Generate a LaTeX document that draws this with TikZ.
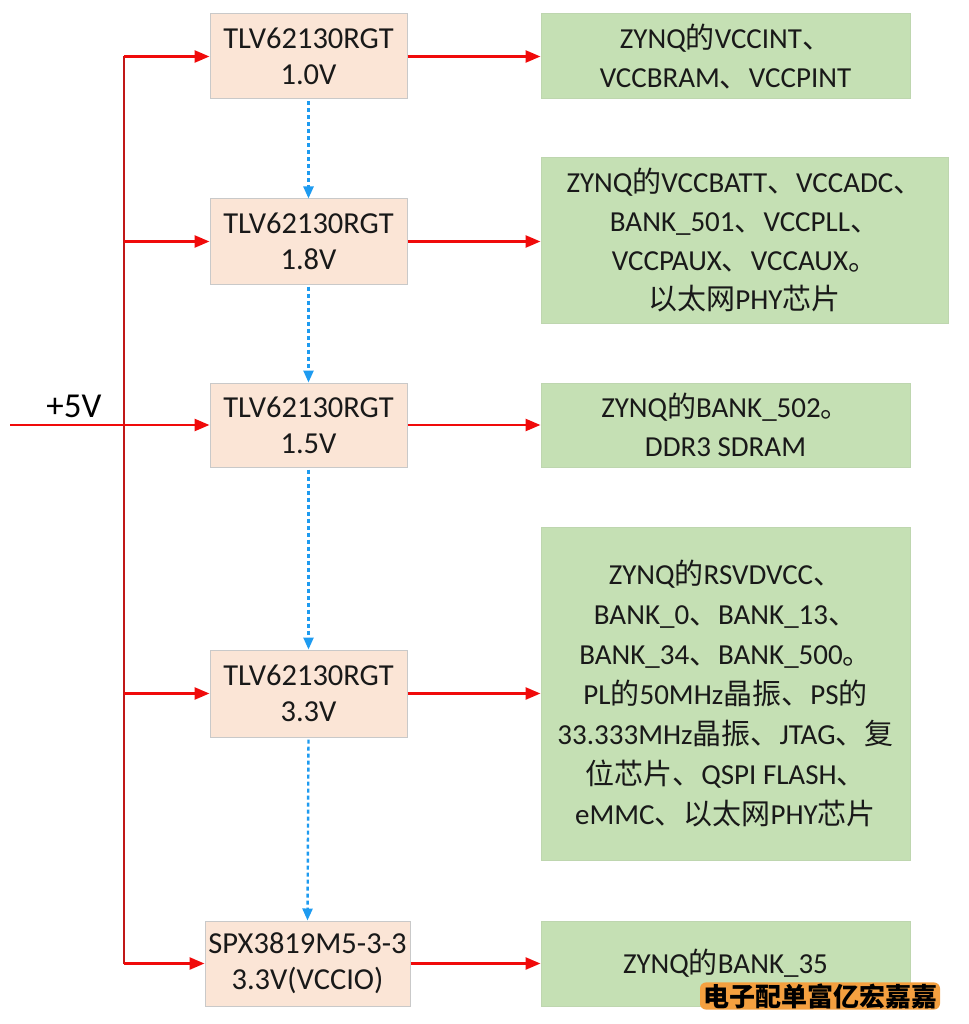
\documentclass[tikz,border=0pt]{standalone}
\usepackage{fontspec}
\setmainfont{Carlito}
\newfontfamily\cjk{Noto Sans CJK SC}
\usetikzlibrary{arrows.meta}
\newcommand\zh[1]{{\cjk #1}}
\definecolor{peach}{HTML}{FBE5D6}
\definecolor{leaf}{HTML}{C5E0B4}
\definecolor{boxline}{HTML}{C9C9C9}
\definecolor{wire}{HTML}{F00A0A}
\definecolor{busline}{HTML}{C01818}
\definecolor{dashblue}{HTML}{1E9BF0}
\definecolor{tagorange}{HTML}{F4A040}
\tikzset{
  lbox/.style={draw=boxline, line width=1pt, fill=peach, align=center, inner sep=0pt,
    font=\fontsize{30.5}{36}\selectfont, text=black!90},
  gbox/.style={draw=leaf!90!gray, line width=1pt, fill=leaf, align=center, inner sep=0pt,
    font=\fontsize{29}{39}\selectfont, text=black!90},
  redarr/.style={draw=wire, line width=2.6pt, -{Triangle[length=15pt,width=12pt]}},
  busstyle/.style={draw=busline, line width=2.6pt},
  bluearr/.style={draw=dashblue, line width=2.4pt, dash pattern=on 4pt off 3pt,
    -{Triangle[length=12pt,width=10pt]}, shorten <=2pt}
}
\begin{document}
\begin{tikzpicture}[x=1pt,y=-1pt]
\useasboundingbox (0,0) rectangle (968,1024);
% left regulator boxes
\node[lbox, minimum width=197, minimum height=85] (r1) at (308.5,56.5) {TLV62130RGT\\1.0V};
\node[lbox, minimum width=197, minimum height=85] (r2) at (308.5,241.5) {TLV62130RGT\\1.8V};
\node[lbox, minimum width=197, minimum height=84] (r3) at (308.5,425) {TLV62130RGT\\1.5V};
\node[lbox, minimum width=197, minimum height=87] (r4) at (308.5,693.5) {TLV62130RGT\\3.3V};
\node[lbox, minimum width=205, minimum height=85] (r5) at (307.5,963.5) {SPX3819M5-3-3\\3.3V(VCCIO)};
% right load boxes
\node[gbox, minimum width=369, minimum height=85] (g1) at (725.5,56.5)
  {ZYNQ\zh{的}VCCINT\zh{、}\\VCCBRAM\zh{、}VCCPINT};
\node[gbox, minimum width=407, minimum height=165] (g2) at (744.5,240.5)
  {ZYNQ\zh{的}VCCBATT\zh{、}VCCADC\zh{、}\\BANK\_501\zh{、}VCCPLL\zh{、}\\VCCPAUX\zh{、}VCCAUX\zh{。}\\\zh{以太网}PHY\zh{芯片}};
\node[gbox, minimum width=369, minimum height=84] (g3) at (725.5,425)
  {ZYNQ\zh{的}BANK\_502\zh{。}\\DDR3 SDRAM};
\node[gbox, minimum width=369, minimum height=333, font=\fontsize{29}{40}\selectfont] (g4) at (725.5,693.5)
  {ZYNQ\zh{的}RSVDVCC\zh{、}\\BANK\_0\zh{、}BANK\_13\zh{、}\\BANK\_34\zh{、}BANK\_500\zh{。}\\PL\zh{的}50MHz\zh{晶振、}PS\zh{的}\\33.333MHz\zh{晶振、}JTAG\zh{、复}\\\zh{位芯片、}QSPI FLASH\zh{、}\\eMMC\zh{、以太网}PHY\zh{芯片}};
\node[gbox, minimum width=369, minimum height=85] (g5) at (725.5,963.5)
  {ZYNQ\zh{的}BANK\_35};
% input
\coordinate (in) at (10,425);
\coordinate (bx) at (124,0);
\node[font=\fontsize{35}{40}\selectfont] (lbl) at (74,406) {+5V};
% bus
\draw[busstyle] (r1.west -| bx) -- (r5.west -| bx);
\draw[redarr] (in) -- (r3.west);
\draw[redarr] (r1.west -| bx) -- (r1.west);
\draw[redarr] (r2.west -| bx) -- (r2.west);
\draw[redarr] (r4.west -| bx) -- (r4.west);
\draw[redarr] (r5.west -| bx) -- (r5.west);
% outputs
\draw[redarr] (r1.east) -- (r1.east -| g1.west);
\draw[redarr] (r2.east) -- (r2.east -| g2.west);
\draw[redarr] (r3.east) -- (r3.east -| g3.west);
\draw[redarr] (r4.east) -- (r4.east -| g4.west);
\draw[redarr] (r5.east) -- (r5.east -| g5.west);
% dashed chain
\draw[bluearr] (r1.south) -- (r2.north);
\draw[bluearr] (r2.south) -- (r3.north);
\draw[bluearr] (r3.south) -- (r4.north);
\draw[bluearr] (r4.south) -- (r5.north);
% watermark tag
\node[fill=tagorange, rounded corners=6pt, inner xsep=3pt, inner ysep=1pt,
  font=\cjk\bfseries\fontsize{26}{28}\selectfont, text=black] (tag) at (820,996) {电子配单富亿宏嘉嘉};
\end{tikzpicture}
\end{document}
